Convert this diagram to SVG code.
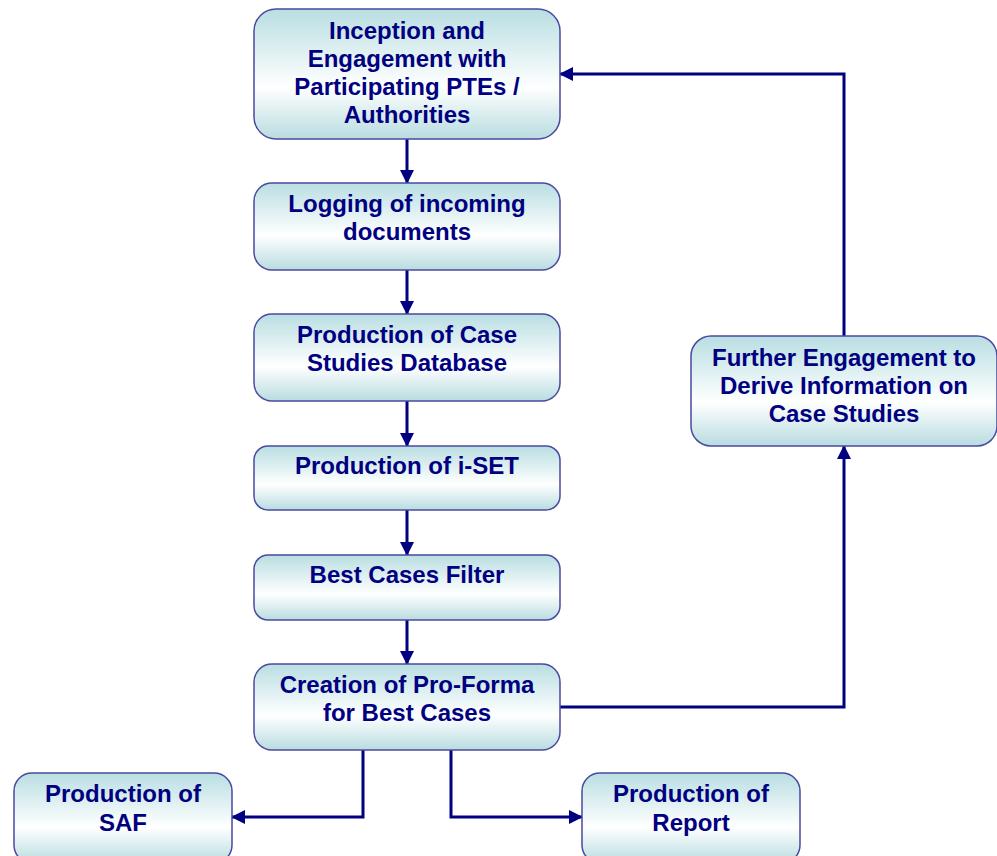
<svg xmlns="http://www.w3.org/2000/svg" width="997" height="856" viewBox="0 0 997 856">
<defs>
<linearGradient id="g" x1="0" y1="0" x2="0" y2="1">
<stop offset="0" stop-color="#b9dee2"/>
<stop offset="0.6" stop-color="#ffffff"/>
<stop offset="1" stop-color="#b9dce0"/>
</linearGradient>
<marker id="ah" markerUnits="userSpaceOnUse" markerWidth="14" markerHeight="14" viewBox="0 0 14 14" refX="13" refY="7" orient="auto">
<path d="M0,0 L14,7 L0,14 Z" fill="#000080"/>
</marker>
<style>
.box{fill:url(#g);stroke:#4a4aa0;stroke-width:1.5}
.t{font-family:"Liberation Sans",Arial,sans-serif;font-weight:bold;font-size:24px;fill:#000080;text-anchor:middle}
.c{fill:none;stroke:#000080;stroke-width:3}
</style>
</defs>
<rect width="997" height="856" fill="#ffffff"/>
<g id="connectors">
<line class="c" x1="407" y1="139" x2="407" y2="183" marker-end="url(#ah)"/>
<line class="c" x1="407" y1="270" x2="407" y2="314" marker-end="url(#ah)"/>
<line class="c" x1="407" y1="401" x2="407" y2="446" marker-end="url(#ah)"/>
<line class="c" x1="407" y1="510" x2="407" y2="555" marker-end="url(#ah)"/>
<line class="c" x1="407" y1="620" x2="407" y2="664" marker-end="url(#ah)"/>
<polyline class="c" points="560,707 844,707 844,446" marker-end="url(#ah)"/>
<polyline class="c" points="844,336 844,74 560,74" marker-end="url(#ah)"/>
<polyline class="c" points="363,750 363,817 232,817" marker-end="url(#ah)"/>
<polyline class="c" points="451,750 451,817 582,817" marker-end="url(#ah)"/>
</g>
<g id="n1">
<rect class="box" x="254" y="9" width="306" height="130" rx="22"/>
<text class="t" x="407" y="39">Inception and</text>
<text class="t" x="407" y="67">Engagement with</text>
<text class="t" x="407" y="95">Participating PTEs /</text>
<text class="t" x="407" y="123">Authorities</text>
</g>
<g id="n2">
<rect class="box" x="254" y="183" width="306" height="87" rx="18"/>
<text class="t" x="407" y="212">Logging of incoming</text>
<text class="t" x="407" y="240">documents</text>
</g>
<g id="n3">
<rect class="box" x="254" y="314" width="306" height="87" rx="18"/>
<text class="t" x="407" y="343">Production of Case</text>
<text class="t" x="407" y="371">Studies Database</text>
</g>
<g id="n4">
<rect class="box" x="254" y="446" width="306" height="64" rx="14"/>
<text class="t" x="407" y="474">Production of i-SET</text>
</g>
<g id="n5">
<rect class="box" x="254" y="555" width="306" height="65" rx="14"/>
<text class="t" x="407" y="583">Best Cases Filter</text>
</g>
<g id="n6">
<rect class="box" x="254" y="664" width="306" height="86" rx="18"/>
<text class="t" x="407" y="693">Creation of Pro-Forma</text>
<text class="t" x="407" y="721">for Best Cases</text>
</g>
<g id="n7">
<rect class="box" x="14" y="773" width="218" height="90" rx="18"/>
<text class="t" x="123" y="802">Production of</text>
<text class="t" x="123" y="831">SAF</text>
</g>
<g id="n8">
<rect class="box" x="582" y="773" width="218" height="90" rx="18"/>
<text class="t" x="691" y="802">Production of</text>
<text class="t" x="691" y="831">Report</text>
</g>
<g id="n9">
<rect class="box" x="691" y="336" width="306" height="110" rx="20"/>
<text class="t" x="844" y="366">Further Engagement to</text>
<text class="t" x="844" y="394">Derive Information on</text>
<text class="t" x="844" y="422">Case Studies</text>
</g>
</svg>
